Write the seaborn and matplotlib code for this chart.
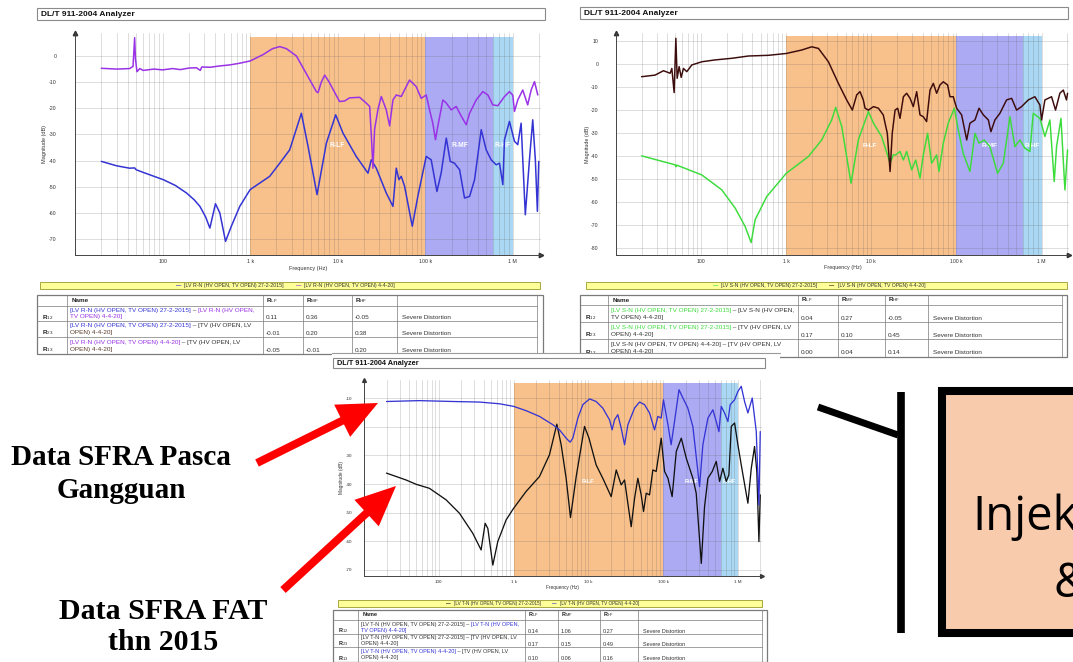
import matplotlib
matplotlib.use("Agg")
import matplotlib.pyplot as plt
from matplotlib.patches import Rectangle, FancyArrow
from matplotlib.ticker import FixedLocator, LogLocator, NullFormatter
import seaborn as sns

W, H = 1073, 662

# ---------- curve data (frequency in Hz, magnitude in dB) ----------
# LV R-N, top left
rn_freq_2015 = [20, 30, 42, 48, 50, 60, 102, 140, 188, 230, 267, 310, 347, 402, 451, 524, 612, 762,
                1000, 1675, 2180, 2830, 3850, 4590, 5810, 7430, 9490, 11500, 16300, 22200, 24200,
                27600, 35900, 42800, 46700, 50100, 53200, 58100, 71100, 82400, 102600, 117000,
                136000, 152000, 174000, 193000, 216000, 247000, 281000, 321000, 366000, 436000,
                497000, 566000, 646000, 705000, 770000, 804000, 916000, 1045000, 1140000, 1245000,
                1390000, 1550000, 1690000, 1810000, 1910000, 1980000]
rn_db_2015 = [-40.3, -42.0, -42.9, -42.8, -43.5, -44.5, -47.3, -49.5, -52.4, -55.0, -57.5, -61.5,
              -65.8, -56.5, -60.0, -70.9, -65.0, -57.5, -51.1, -46.0, -41.0, -35.9, -21.9, -34.6,
              -53.0, -33.3, -22.5, -29.5, -38.4, -44.8, -39.7, -42.9, -52.4, -57.5, -42.9, -47.3,
              -46.0, -49.8, -65.1, -53.6, -38.4, -39.7, -51.8, -44.8, -31.4, -40.3, -41.0, -43.5,
              -54.3, -53.7, -47.3, -28.2, -35.9, -39.7, -41.6, -41.0, -49.2, -32.0, -25.0, -32.6,
              -33.9, -25.7, -60.7, -39.7, -24.4, -39.7, -59.4, -40.3]
rn_freq_2020 = [20, 30, 42, 46, 48, 49, 51, 55, 60, 80, 100, 130, 160, 200, 244, 270, 280, 350, 450,
                586, 750, 1000, 1400, 1800, 2180, 2600, 3380, 4600, 5710, 5970, 6500, 7110, 8000,
                10500, 12000, 13700, 17800, 21200, 23200, 24200, 25300, 26400, 29000, 31500, 35900,
                39200, 42800, 46700, 53200, 66200, 78900, 90000, 102600, 112000, 122000, 131000,
                139000, 159000, 174000, 198000, 226000, 258000, 294000, 321000, 382000, 455000,
                519000, 592000, 675000, 804000, 916000, 1000000, 1045000, 1140000, 1300000,
                1480000, 1620000, 1770000, 1930000]
rn_db_2020 = [-4.7, -5.0, -4.8, -4.0, 7.0, -1.0, -6.0, -4.8, -5.5, -5.0, -5.3, -4.8, -5.2, -4.6,
              -4.5, -5.5, -4.2, -4.3, -3.8, -3.4, -2.8, -1.9, 0.5, 2.8, 3.6, 2.8, 0.0, -8.0, -13.6,
              -14.0, -10.0, -7.3, -10.0, -17.4, -17.2, -16.0, -15.8, -18.0, -19.3, -30.0, -42.9,
              -28.0, -20.0, -15.5, -20.6, -26.7, -16.8, -14.9, -15.5, -9.2, -11.7, -16.2, -14.9,
              -20.6, -25.7, -32.0, -27.0, -16.8, -18.0, -20.6, -19.3, -23.0, -26.3, -21.9, -16.8,
              -13.6, -14.9, -18.7, -19.0, -15.5, -13.6, -15.0, -21.2, -16.8, -13.0, -18.7, -13.0,
              -9.8, -14.9]

# LV S-N, top right
sn_freq_2015 = [20, 49.5, 50.5, 51.5, 102, 175, 251, 329, 387, 431, 590, 1000, 1820, 2610, 3420,
                3810, 4490, 5770, 7030, 9230, 10600, 13200, 16600, 18100, 19300, 21700, 23800,
                26000, 29800, 33200, 37300, 40800, 45800, 51100, 58500, 62300, 70000, 80100, 94400,
                105000, 120000, 144000, 165000, 184000, 212000, 247000, 304000, 355000, 425000,
                486000, 557000, 637000, 729000, 798000, 956000, 1094000, 1253000, 1408000,
                1500000, 1690000, 1880000, 2020000]
sn_db_2015 = [-39.9, -43.8, -44.6, -43.9, -48.2, -54.7, -62.6, -70.6, -77.6, -67.7, -57.6, -47.5,
              -40.2, -33.0, -24.3, -18.8, -27.2, -51.8, -33.0, -20.7, -25.7, -31.5, -43.1, -39.5,
              -39.5, -38.0, -41.7, -38.0, -46.0, -41.7, -49.6, -39.5, -30.1, -43.1, -39.5, -46.7,
              -34.4, -25.7, -19.2, -28.6, -38.8, -46.7, -30.1, -34.4, -33.0, -35.9, -47.5, -43.1,
              -22.9, -35.9, -33.0, -36.6, -38.0, -21.4, -23.6, -31.5, -24.3, -51.1, -35.9, -23.6,
              -54.7, -37.3]
sn_freq_2020 = [20, 28.8, 36.1, 43.3, 45.3, 48.2, 50.5, 52.3, 55.2, 58.3, 62, 67.9, 77.7, 102, 146,
                229, 360, 618, 1000, 1520, 1990, 2390, 3130, 4100, 5130, 5980, 6730, 7360, 8050,
                8430, 9230, 10600, 12100, 13800, 15400, 16600, 17600, 19000, 20400, 21700, 23800,
                26000, 28500, 31100, 34100, 37300, 40800, 44600, 48900, 53500, 58500, 64000, 70000,
                78700, 83900, 91800, 100500, 115000, 132000, 144000, 165000, 184000, 207000,
                237000, 254000, 283000, 324000, 388000, 445000, 509000, 582000, 697000, 835000,
                956000, 1000000, 1094000, 1197000, 1310000, 1459000, 1640000, 1800000, 1960000,
                2020000]
sn_db_2020 = [-5.5, -4.8, -2.9, -4.0, -1.9, -12.4, 11.2, -6.2, -1.1, -5.8, -1.9, -3.3, -0.4, 1.0,
              1.8, 2.5, 3.5, 3.8, 4.6, 6.1, 7.5, 6.8, 1.0, -8.4, -15.6, -20.0, -13.4, -12.0, -15.6,
              -19.2, -20.0, -18.5, -19.2, -22.1, -30.1, -46.7, -30.1, -20.0, -19.2, -23.6, -14.2,
              -12.7, -14.9, -18.5, -12.0, -22.1, -22.9, -25.0, -11.3, -8.4, -12.7, -9.1, -7.7,
              -9.1, -14.2, -14.2, -19.2, -22.1, -33.0, -25.7, -24.3, -19.2, -22.1, -24.3, -29.4,
              -24.3, -21.4, -15.6, -14.9, -20.0, -18.5, -15.6, -14.2, -17.8, -24.3, -15.6, -14.9,
              -14.2, -20.0, -12.7, -11.3, -15.6, -12.7]

# LV T-N, bottom
tn_freq_2015 = [20, 36.6, 49.8, 75, 125, 189, 285, 368, 417, 453, 528, 615, 796, 1000, 1470, 2220,
                3020, 3790, 4330, 5050, 5770, 6880, 8890, 10200, 12700, 15600, 20200, 23600, 27500,
                30500, 37400, 41500, 45900, 50900, 54700, 59400, 65800, 72900, 80800, 94300,
                104500, 116000, 132000, 150000, 175000, 204000, 250000, 277000, 324000, 358000,
                397000, 454000, 513000, 569000, 630000, 698000, 758000, 815000, 903000, 1000000,
                1108000, 1360000, 1510000, 1670000, 1790000, 1910000, 1990000]
tn_db_2015 = [-36.2, -38.6, -40.1, -41.5, -45.5, -50.2, -57.2, -63.0, -53.7, -55.5, -68.3, -60.1,
              -52.5, -48.5, -42.6, -37.4, -29.8, -19.1, -26.3, -38.0, -51.7, -37.4, -19.9, -24.0,
              -33.3, -38.0, -44.4, -35.1, -40.3, -38.6, -54.9, -45.0, -38.0, -43.8, -49.6, -43.2,
              -43.8, -35.1, -35.6, -24.0, -35.6, -38.0, -44.4, -28.6, -24.0, -31.0, -38.0, -43.2,
              -67.7, -47.9, -38.0, -35.6, -32.1, -39.1, -34.5, -39.1, -36.8, -19.9, -18.7, -26.3,
              -33.3, -46.7, -34.5, -26.9, -35.6, -60.1, -43.8]
tn_freq_2020 = [20, 55, 154, 350, 649, 1000, 1470, 2220, 3350, 4110, 5050, 5710, 6200, 7240, 8440,
                10400, 12700, 15600, 19200, 20800, 22400, 24800, 27500, 30500, 33800, 41500, 48400,
                56400, 65800, 76800, 85100, 94300, 101000, 116000, 128000, 142000, 163000, 184000,
                214000, 250000, 307000, 340000, 397000, 463000, 513000, 557000, 599000, 663000,
                735000, 789000, 903000, 1000000, 1108000, 1228000, 1360000, 1555000, 1760000,
                1910000, 1990000]
tn_db_2020 = [-11.2, -10.9, -11.2, -11.4, -12.0, -12.9, -14.4, -16.4, -19.3, -21.1, -24.0, -25.4,
              -24.0, -17.0, -12.3, -10.3, -11.2, -13.5, -17.6, -21.1, -17.6, -15.8, -20.5, -26.3,
              -19.3, -13.5, -11.4, -12.3, -15.2, -21.1, -16.4, -17.0, -10.6, -19.3, -26.3, -18.2,
              -7.1, -10.0, -13.5, -20.0, -40.9, -26.3, -17.0, -14.1, -18.2, -21.7, -12.9, -15.2,
              -18.2, -12.3, -10.6, -7.7, -5.9, -11.2, -15.2, -10.0, -21.7, -47.3, -21.7]

# frequency bands and axis labels
band_edges = [1e3, 1e5, 6e5, 1e6]
band_colors = ["#f8c08a", "#abaaf3", "#a9d7f4"]
band_names = ["R-LF", "R-MF", "R-HF"]
freq_ticks = [100, 1e3, 1e4, 1e5, 1e6]
freq_ticklabels = ["100", "1 k", "10 k", "100 k", "1 M"]

# correlation tables
row_names = ["12", "23", "13"]
rn_lf, rn_mf, rn_hf = [0.11, -0.01, -0.05], [0.36, 0.20, -0.01], [-0.05, 0.38, 0.20]
sn_lf, sn_mf, sn_hf = [0.04, 0.17, 0.00], [0.27, 0.10, 0.04], [-0.05, 0.45, 0.14]
tn_lf, tn_mf, tn_hf = [0.14, 0.17, 0.10], [1.06, 0.15, 0.06], [0.27, 0.49, 0.16]
verdict = ["Severe Distortion"] * 3

BLUE, PURPLE, GREEN, BROWN = "#3434d4", "#9a32e6", "#3cdc3c", "#3d0c0c"
DARK, TBROWN = "#333333", "#5a3b2a"

sns.set_style("white")
plt.rcParams["font.family"] = ["Liberation Sans", "DejaVu Sans"]
plt.rcParams["mathtext.fontset"] = "custom"
plt.rcParams["mathtext.rm"] = "Liberation Sans"
plt.rcParams["mathtext.bf"] = "Liberation Sans:bold"

fig = plt.figure(figsize=(W / 100, H / 100), dpi=100)
renderer = fig.canvas.get_renderer()


def frac(l, t, r, b):
    return [l / W, 1 - b / H, (r - l) / W, (b - t) / H]


def overlay(z):
    ax = fig.add_axes([0, 0, 1, 1], zorder=z)
    ax.set_xlim(0, W)
    ax.set_ylim(H, 0)
    ax.axis("off")
    return ax


def chain(ax, x, y, parts, fs, **kw):
    # several coloured pieces of text on one line
    for s, c in parts:
        t = ax.text(x, y, s, color=c, fontsize=fs, va="center", ha="left", **kw)
        x += t.get_window_extent(renderer=renderer).width
    return x


def chart(box, z, series, ylim, shade_top, yticks, label_pos, s, ypad):
    ax = fig.add_axes(frac(*box), zorder=z)
    ax.set_facecolor("white")
    for f, d, c in series:
        sns.lineplot(x=f, y=d, ax=ax, color=c, linewidth=1.1 * s, estimator=None,
                     sort=False, zorder=3)
    ax.set_xscale("log")
    ax.set_xlim(10, 2.1e6)
    ax.set_ylim(*ylim)
    top = (shade_top - ylim[0]) / (ylim[1] - ylim[0])
    for i, c in enumerate(band_colors):
        ax.axvspan(band_edges[i], band_edges[i + 1], ymin=0, ymax=top, color=c, lw=0, zorder=0.2)
    ax.xaxis.set_major_locator(FixedLocator(freq_ticks))
    ax.set_xticklabels(freq_ticklabels)
    ax.xaxis.set_minor_locator(LogLocator(base=10, subs=range(2, 10), numticks=30))
    ax.xaxis.set_minor_formatter(NullFormatter())
    ax.set_yticks(yticks)
    ax.set_yticklabels([str(v) for v in yticks])
    ax.set_axisbelow(True)
    ax.grid(which="both", axis="x", color="#666666", alpha=0.3, lw=0.5)
    ax.grid(which="major", axis="y", color="#666666", alpha=0.3, lw=0.5)
    ax.tick_params(axis="both", which="both", length=0, labelsize=3.8 * s, colors="#333333")
    ax.tick_params(axis="y", pad=ypad)
    ax.tick_params(axis="x", pad=3 * s)
    ax.set_xlabel("Frequency (Hz)", fontsize=4.0 * s, labelpad=1, color="#333333")
    ax.set_ylabel("Magnitude (dB)", fontsize=4.0 * s, labelpad=1, color="#333333")
    for side in ["top", "right"]:
        ax.spines[side].set_visible(False)
    for side in ["left", "bottom"]:
        ax.spines[side].set_color("#444444")
        ax.spines[side].set_linewidth(0.7)
    ax.plot([1], [0], marker=">", ms=3.2 * s, color="#333333", transform=ax.transAxes, clip_on=False)
    ax.plot([0], [1], marker="^", ms=3.2 * s, color="#333333", transform=ax.transAxes, clip_on=False)
    for name, (f, d) in zip(band_names, label_pos):
        ax.text(f, d, name, color="white", fontsize=4.8 * s, fontweight="bold",
                ha="center", va="center", zorder=2)
    return ax


def title_box(ax, l, t, r, b, fs):
    ax.add_patch(Rectangle((l, t), r - l, b - t, fc="white", ec="#8a8a8a", lw=0.8))
    ax.text(l + 4, (t + b) / 2 + 0.5, "DL/T 911-2004 Analyzer", fontsize=fs, fontweight="bold",
            va="center", ha="left", color="#111111")


def legend_bar(ax, l, t, r, b, x0, label, c1, c2, fs):
    ax.add_patch(Rectangle((l, t), r - l, b - t, fc="#ffff99", ec="#a8a840", lw=0.7))
    y = (t + b) / 2
    x = chain(ax, x0, y, [("—", c1)], fs, fontweight="bold")
    x = chain(ax, x + 3, y, [(f"[{label} (HV OPEN, TV OPEN) 27-2-2015]", DARK)], fs)
    x = chain(ax, x + 12, y, [("—", c2)], fs, fontweight="bold")
    chain(ax, x + 3, y, [(f"[{label} (HV OPEN, TV OPEN) 4-4-20]", DARK)], fs)


def table(ax, cols, outer_r, rows, names, lf, mf, hf, fs):
    lc = "#7a7a7a"
    l, t, b = cols[0], rows[0], rows[-1]
    ax.add_patch(Rectangle((l, t), outer_r - l, b - t, fill=False, ec=lc, lw=0.9))
    for x in cols[1:]:
        ax.plot([x, x], [t, b], color=lc, lw=0.5)
    for y in rows[1:-1]:
        ax.plot([l, cols[-1]], [y, y], color=lc, lw=0.5)
    hy = (rows[0] + rows[1]) / 2
    ax.text(cols[1] + 5, hy, "Name", fontsize=fs, fontweight="bold", va="center", color="#222222")
    for i, h in enumerate(["LF", "MF", "HF"]):
        ax.text(cols[2 + i] + 3, hy, rf"$\mathbf{{R}}_{{\mathrm{{{h}}}}}$", fontsize=fs,
                va="center", color="#222222")
    for k in range(3):
        top, bot = rows[k + 1], rows[k + 2]
        y1 = top + 0.3 * (bot - top)
        y2 = top + 0.72 * (bot - top)
        ax.text(cols[0] + 5, y2 + 0.5, rf"$\mathbf{{R}}_{{\mathrm{{{row_names[k]}}}}}$",
                fontsize=fs, va="center", color="#222222")
        chain(ax, cols[1] + 3, y1, names[k][0], fs)
        chain(ax, cols[1] + 3, y2, names[k][1], fs)
        for j, v in enumerate([lf[k], mf[k], hf[k]]):
            ax.text(cols[2 + j] + 3, y2 + 1, f"{v:.2f}", fontsize=fs, va="center", color=DARK)
        ax.text(cols[5] + 5, y2 + 1, verdict[k], fontsize=fs, va="center", color=DARK)


rn_names = [
    [[("[LV R-N (HV OPEN, TV OPEN) 27-2-2015]", BLUE), (" – ", DARK), ("[LV R-N (HV OPEN,", PURPLE)],
     [("TV OPEN) 4-4-20]", PURPLE)]],
    [[("[LV R-N (HV OPEN, TV OPEN) 27-2-2015]", BLUE), (" – [TV (HV OPEN, LV", DARK)],
     [("OPEN) 4-4-20]", TBROWN)]],
    [[("[LV R-N (HV OPEN, TV OPEN) 4-4-20]", PURPLE), (" – [TV (HV OPEN, LV", DARK)],
     [("OPEN) 4-4-20]", TBROWN)]],
]
sn_names = [
    [[("[LV S-N (HV OPEN, TV OPEN) 27-2-2015]", GREEN), (" – [LV S-N (HV OPEN,", DARK)],
     [("TV OPEN) 4-4-20]", DARK)]],
    [[("[LV S-N (HV OPEN, TV OPEN) 27-2-2015]", GREEN), (" – [TV (HV OPEN, LV", DARK)],
     [("OPEN) 4-4-20]", DARK)]],
    [[("[LV S-N (HV OPEN, TV OPEN) 4-4-20] – [TV (HV OPEN, LV", DARK)],
     [("OPEN) 4-4-20]", DARK)]],
]
tn_names = [
    [[("[LV T-N (HV OPEN, TV OPEN) 27-2-2015] – ", DARK), ("[LV T-N (HV OPEN,", BLUE)],
     [("TV OPEN) 4-4-20]", BLUE)]],
    [[("[LV T-N (HV OPEN, TV OPEN) 27-2-2015] – [TV (HV OPEN, LV", DARK)],
     [("OPEN) 4-4-20]", DARK)]],
    [[("[LV T-N (HV OPEN, TV OPEN) 4-4-20]", BLUE), (" – [TV (HV OPEN, LV", DARK)],
     [("OPEN) 4-4-20]", DARK)]],
]

# ---------- top panels ----------
ov1 = overlay(0)
title_box(ov1, 37, 8, 545, 20, 6.0)
title_box(ov1, 580, 7, 1068, 19, 6.0)
legend_bar(ov1, 40, 282, 540, 289, 176, "LV R-N", BLUE, PURPLE, 3.8)
legend_bar(ov1, 586, 282, 1067, 289, 713, "LV S-N", GREEN, BROWN, 3.7)
table(ov1, [37, 67, 263, 303, 352, 397, 537], 543, [295, 306, 321, 337, 354],
      rn_names, rn_lf, rn_mf, rn_hf, 4.6)
table(ov1, [580, 608, 798, 838, 885, 928, 1062], 1067, [295, 305, 322, 339, 357],
      sn_names, sn_lf, sn_mf, sn_hf, 4.55)

chart((75, 33, 541, 255), 1, [(rn_freq_2015, rn_db_2015, BLUE), (rn_freq_2020, rn_db_2020, PURPLE)],
      (-76.1, 8.8), 7.3, [0, -10, -20, -30, -40, -50, -60, -70],
      [(1e4, -34.4), (2.47e5, -34.4), (7.7e5, -34.4)], 1.0, 13.5)
chart((616, 33, 1069, 255), 1, [(sn_freq_2015, sn_db_2015, GREEN), (sn_freq_2020, sn_db_2020, BROWN)],
      (-83.0, 13.5), 12.2, [10, 0, -10, -20, -30, -40, -50, -60, -70, -80],
      [(9.6e3, -35.6), (2.47e5, -35.6), (7.7e5, -35.6)], 0.97, 12.5)

# ---------- bottom panel ----------
ov2 = overlay(2)
ov2.add_patch(Rectangle((332, 353), 448, 320, fc="white", ec="none"))
ov2.plot([332, 780], [353, 353], color="#9a9a9a", lw=0.8)
title_box(ov2, 333, 358, 765, 368, 5.3)
legend_bar(ov2, 338, 600, 762, 607, 446, "LV T-N", "#111111", BLUE, 3.3)
table(ov2, [333, 358, 525, 558, 600, 638, 762], 767, [610, 620, 634, 647, 662],
      tn_names, tn_lf, tn_mf, tn_hf, 3.95)

ov2.text(121, 474, "Data SFRA Pasca\nGangguan", family="Liberation Serif", fontweight="bold",
         fontsize=21, ha="center", va="center", linespacing=1.25, color="black")
ov2.text(163, 627, "Data SFRA FAT\nthn 2015", family="Liberation Serif", fontweight="bold",
         fontsize=21.5, ha="center", va="center", linespacing=1.22, color="black")

ov2.plot([818, 898], [407, 435], color="black", lw=5, solid_capstyle="butt")
ov2.plot([901, 901], [392, 633], color="black", lw=5.5, solid_capstyle="butt")
ov2.add_patch(Rectangle((941.5, 391), 300, 242, fc="#f8cbad", ec="black", lw=5.8))
ov2.text(972, 530, "Injeksi", family="Open Sans", fontsize=34, ha="left", va="baseline",
         color="black")
ov2.text(1053, 597, "&", family="Open Sans", fontsize=34, ha="left", va="baseline", color="black")

chart((364, 380, 762, 576), 3, [(tn_freq_2015, tn_db_2015, "#111111"), (tn_freq_2020, tn_db_2020, BLUE)],
      (-72.1, -3.7), -4.8, [-10, -20, -30, -40, -50, -60, -70],
      [(1e4, -39.1), (2.4e5, -39.1), (7.6e5, -39.1)], 0.85, 8.5)

# ---------- red arrows ----------
ov3 = overlay(4)
ov3.add_patch(FancyArrow(257, 463, 121, -60, width=8, head_width=36, head_length=40,
                         length_includes_head=True, color="#ff0000", lw=0))
ov3.add_patch(FancyArrow(283, 590, 113, -104, width=8, head_width=36, head_length=40,
                         length_includes_head=True, color="#ff0000", lw=0))

fig.savefig("out.png", dpi=100)
